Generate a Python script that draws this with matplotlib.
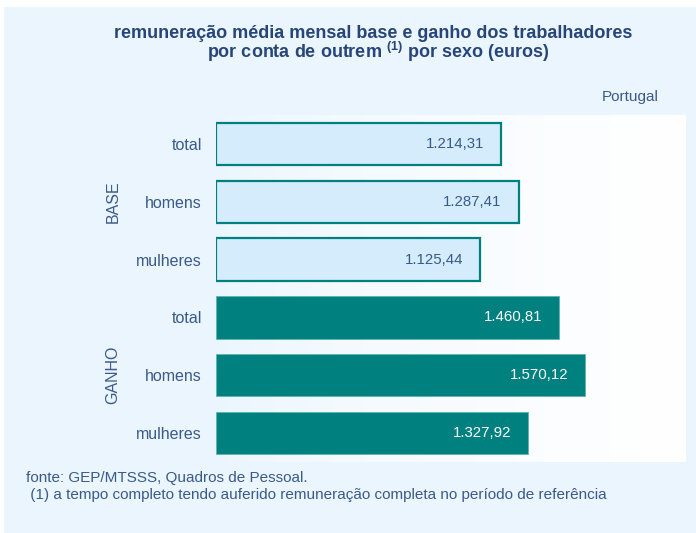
import numpy               as     np
import matplotlib
matplotlib.use('Agg')
import matplotlib.pyplot   as     plt

from   matplotlib.patches  import Rectangle
from   matplotlib.colors   import LinearSegmentedColormap

plt.rcParams['font.family']      = ['Liberation Sans', 'DejaVu Sans']
plt.rcParams['mathtext.fontset'] = 'custom'
plt.rcParams['mathtext.rm']      = 'Liberation Sans'
plt.rcParams['mathtext.bf']      = 'Liberation Sans:bold'

# -- data
groups      = ['BASE', 'GANHO']
categories  = ['total', 'homens', 'mulheres']
base_vals   = [1214.31, 1287.41, 1125.44]
ganho_vals  = [1460.81, 1570.12, 1327.92]
base_lbls   = ['1.214,31', '1.287,41', '1.125,44']
ganho_lbls  = ['1.460,81', '1.570,12', '1.327,92']

# -- colours
bg          = '#eaf5fd'
teal        = '#00807f'
light       = '#d5ecfc'
txt         = '#3a5a8a'
ttl         = '#274579'

W, H        = 696, 533
fig         = plt.figure(figsize=(W / 100., H / 100.), dpi=100, facecolor='white')

fig.patches.append(Rectangle((4. / W, 0.), 1. - 4. / W, 1. - 7. / H, transform=fig.transFigure,
                             facecolor=bg, edgecolor='none', zorder=-10))

ax          = fig.add_axes([216. / W, (H - 462.) / H, 470. / W, 347. / H])
ax.set_zorder(1)
ax.set_facecolor('white')

# background gradient of the plot area
ramp        = np.linspace(0., 1., 256)[None, :] ** 0.6
cmap        = LinearSegmentedColormap.from_list('bgw', [bg, 'white'])
ax.imshow(ramp, cmap=cmap, extent=[0, 2000, 5.5, -0.5], aspect='auto', zorder=0,
          interpolation='bilinear')

ypos        = np.arange(6)
values      = base_vals + ganho_vals
labels      = base_lbls + ganho_lbls

ax.barh(ypos[:3], base_vals,  height=0.73, color=light, edgecolor=teal, linewidth=1.6, zorder=2)
ax.barh(ypos[3:], ganho_vals, height=0.73, color=teal,  edgecolor='#5fb3b2', linewidth=0.6, zorder=2)

for y, v, l in zip(ypos, values, labels):
    col = txt if y < 3 else 'white'
    ax.text(v - 72., y, l, ha='right', va='center', fontsize=10.8, color=col, zorder=3)

ax.set_xlim(0, 2000)
ax.set_ylim(5.5, -0.5)

ax.set_yticks(ypos)
ax.set_yticklabels(categories * 2, fontsize=11.5, color=txt)
ax.tick_params(axis='y', length=0, pad=10)
ax.set_xticks([])

for s in ax.spines.values():
    s.set_visible(False)

# group labels
for gi, g in enumerate(groups):
    yc = (H - (202. + gi * 173.)) / H
    fig.text(113. / W, yc, g, rotation=90, ha='center', va='center', fontsize=11.5, color=txt)

# title
fig.text(373. / W, 1. - 33. / H, 'remuneração média mensal base e ganho dos trabalhadores',
         ha='center', va='center', fontsize=13, fontweight='bold', color=ttl)
fig.text(378. / W, 1. - 52. / H, r'por conta de outrem $^{\mathbf{(1)}}$ por sexo (euros)',
         ha='center', va='center', fontsize=13, fontweight='bold', color=ttl)

fig.text(659. / W, 1. - 97. / H, 'Portugal', ha='right', va='center', fontsize=11, color=txt)

# footer
fig.text(26. / W, 1. - 478. / H, 'fonte: GEP/MTSSS, Quadros de Pessoal.',
         ha='left', va='center', fontsize=11, color=txt)
fig.text(26. / W, 1. - 495. / H, ' (1) a tempo completo tendo auferido remuneração completa no período de referência',
         ha='left', va='center', fontsize=11, color=txt)

plt.savefig('out.png', dpi=100, facecolor=fig.get_facecolor())
